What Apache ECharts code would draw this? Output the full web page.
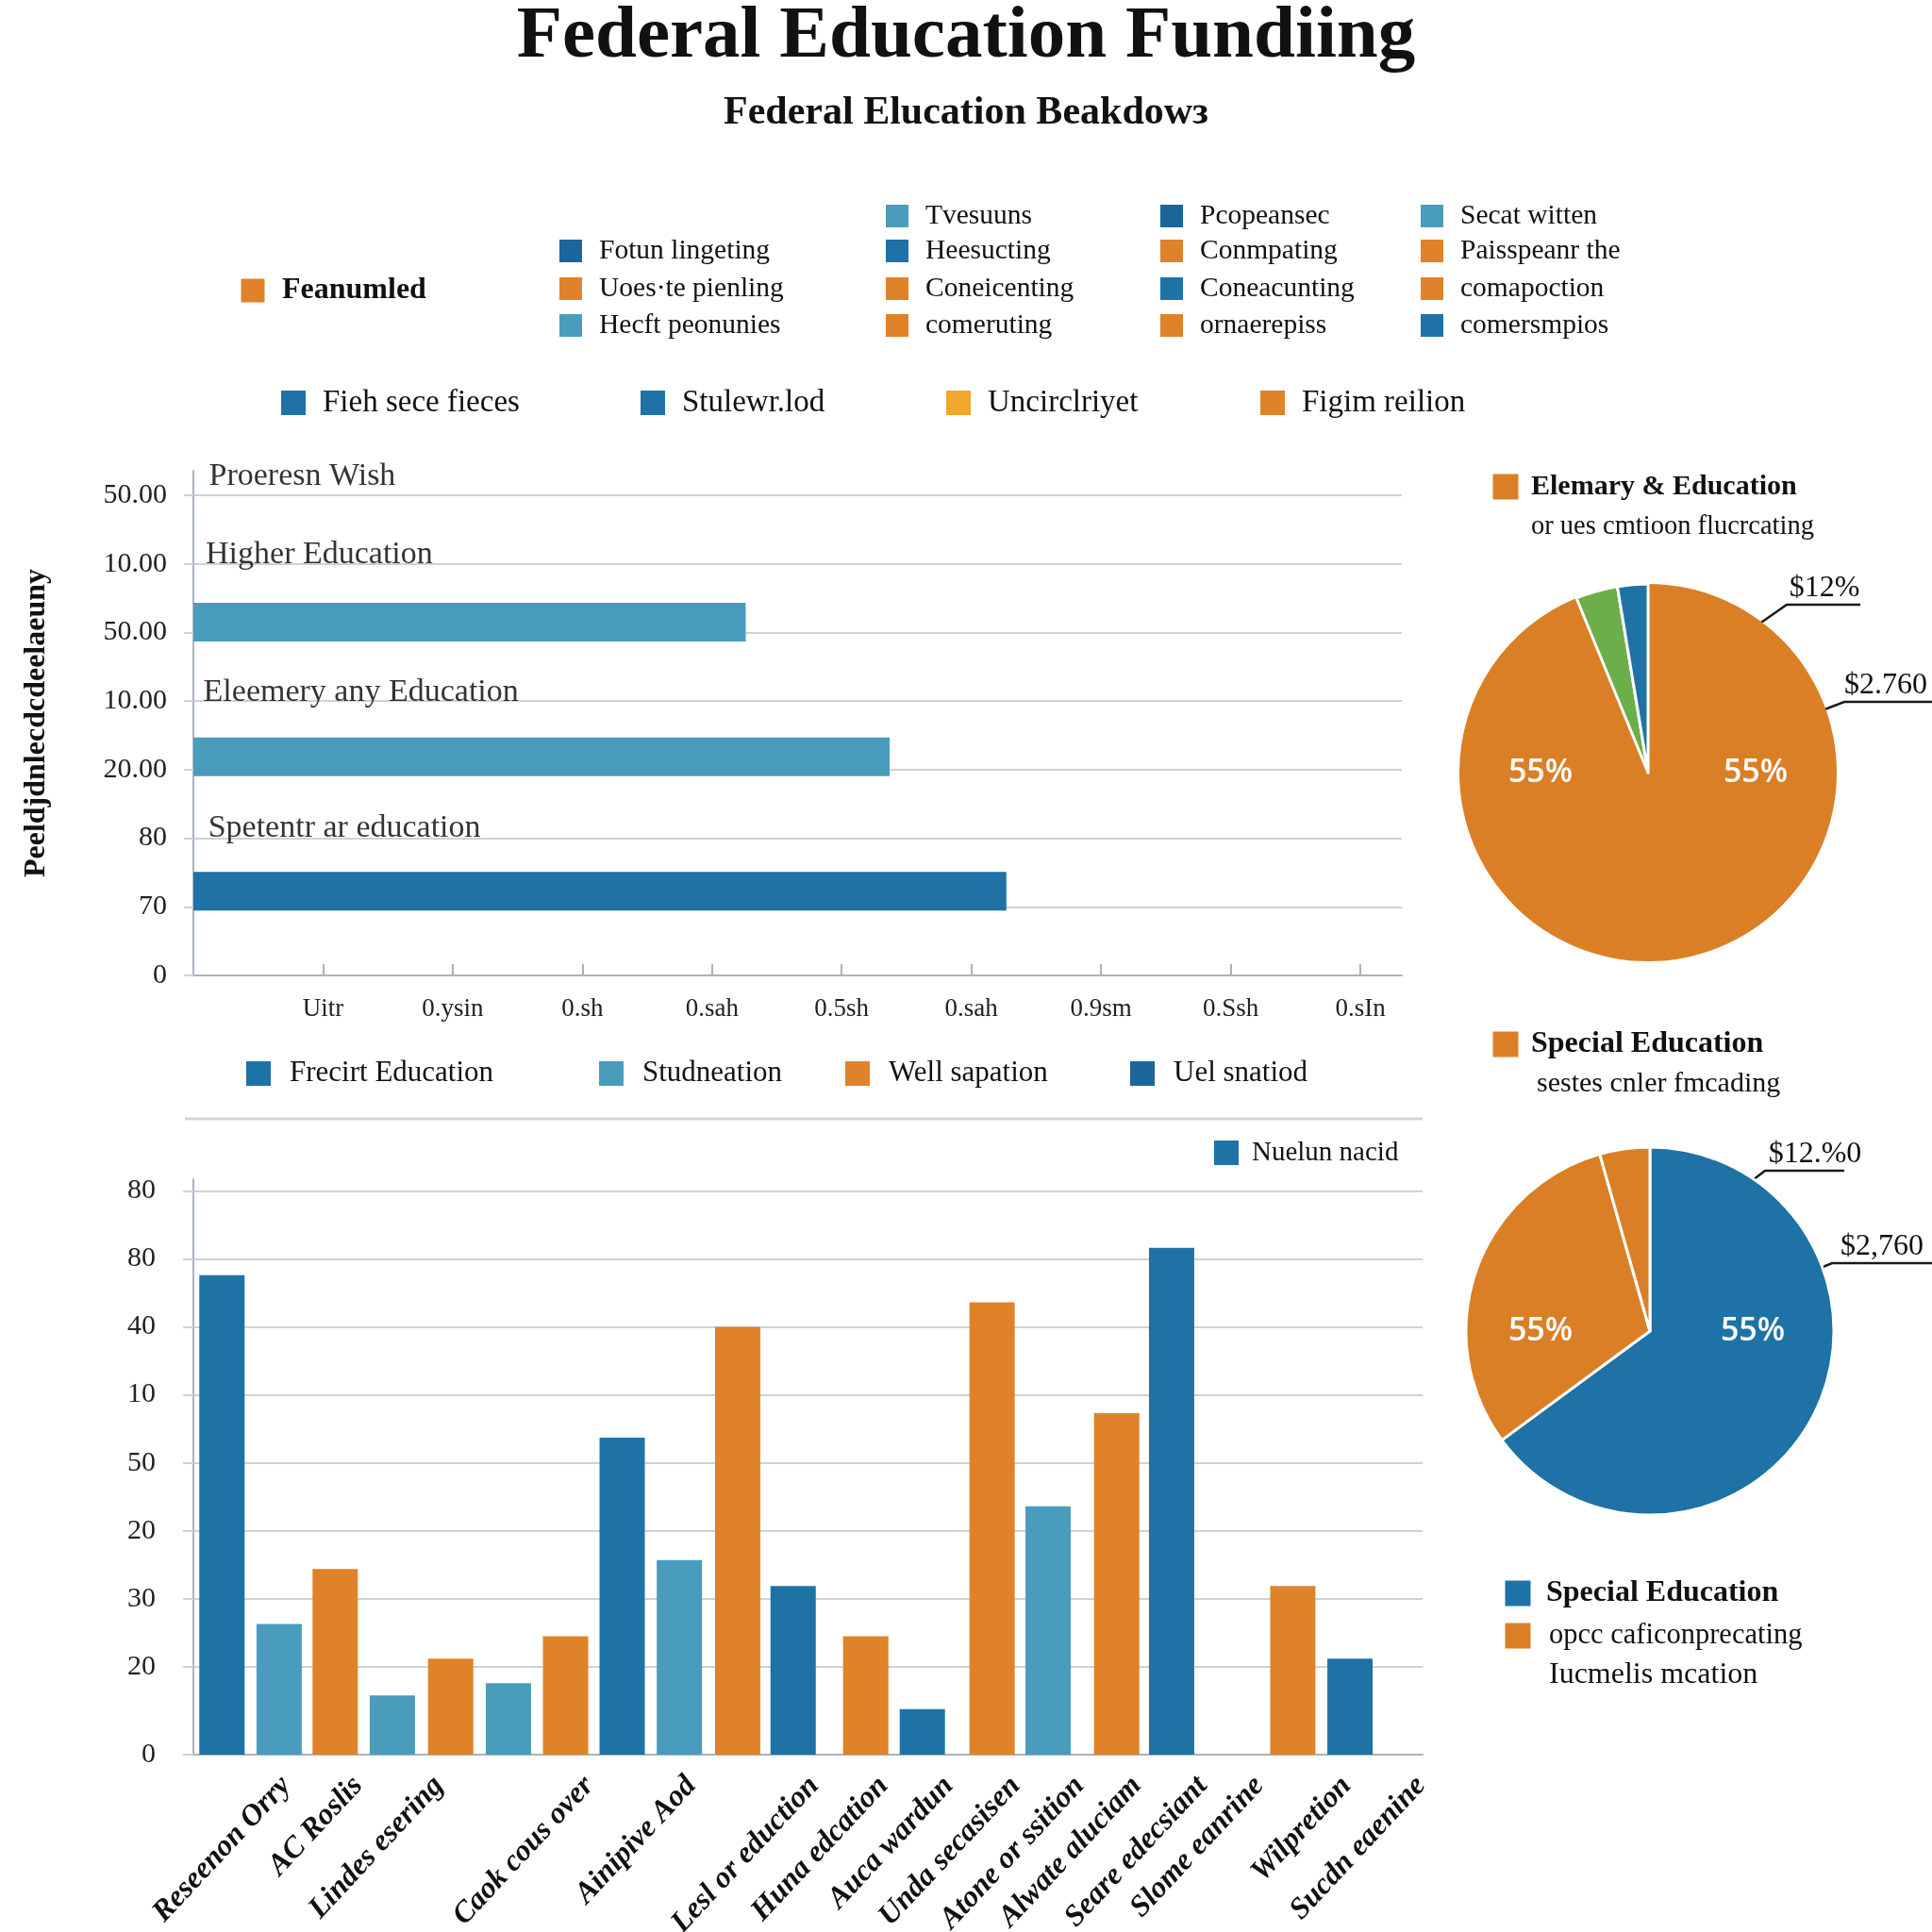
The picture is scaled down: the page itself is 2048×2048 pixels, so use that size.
<!DOCTYPE html>
<html><head><meta charset="utf-8">
<script src="https://cdn.jsdelivr.net/npm/echarts@6/dist/echarts.min.js"></script>
<style>html,body{margin:0;padding:0;background:#fff}#c{width:2048px;height:2048px}</style>
</head><body><div id="c"></div>
<script>
// ================= DATA =================
const titleText = 'Federal Education Fundiing';
const subtitleText = 'Federal Elucation Beakdowз';

// top horizontal bar chart
const topYTickLabels = ['0', '70', '80', '20.00', '10.00', '50.00', '10.00', '50.00']; // bottom -> top
const topXTickLabels = ['Uitr', '0.ysin', '0.sh', '0.sah', '0.5sh', '0.sah', '0.9sm', '0.Ssh', '0.sIn'];
const topYAxisName = 'Peeldjdnlecdcdeelaeuny';
const topCategoryNames = ['Proeresn Wish', 'Higher Education', 'Eleemery any Education', 'Spetentr ar education'];
const topBarValues = [4.26, 5.37, 6.27];
const topBarColors = ['teal', 'teal', 'blue'];

// bottom vertical bar chart
const bottomYTickLabels = ['0', '20', '30', '20', '50', '10', '40', '80', '80']; // bottom -> top
const bottomBarValues = [7.05, 1.92, 2.73, 0.87, 1.41, 1.05, 1.74, 4.66, 2.86, 6.29, 2.48, 1.74, 0.67, 6.65, 3.65, 5.02, 7.45, 2.48, 1.41];
const bottomBarPositions = [0.50, 1.50, 2.48, 3.48, 4.50, 5.51, 6.51, 7.50, 8.50, 9.52, 10.49, 11.76, 12.75, 13.97, 14.95, 16.15, 17.11, 19.23, 20.23];
const bottomBarColors = ['blue', 'teal', 'orange', 'teal', 'orange', 'teal', 'orange', 'blue', 'teal', 'orange', 'blue', 'orange', 'blue', 'orange', 'teal', 'orange', 'blue', 'orange', 'blue'];
const bottomCategoryLabels = ['Reseenon Orry', 'AC Roslis', 'Lindes esering', 'Caok cous over', 'Ainipive Aod', 'Lesl or eduction', 'Huna edcation', 'Auca wardun', 'Unda secasisen', 'Atone or ssition', 'Alwate aluciam', 'Seare edecsiant', 'Slome eanrine', 'Wilpretion', 'Sucdn eaenine'];
const bottomCategoryPositions = [1.62, 2.88, 4.29, 6.92, 8.71, 10.86, 12.07, 13.21, 14.38, 15.5, 16.5, 17.65, 18.64, 20.17, 21.47];

// pie 1 (Elemary & Education)
const pie1Values = [50, 43.8, 3.6, 2.6];
const pie1Colors = ['pieOrange', 'pieOrange', 'green', 'blue'];
const pie1Labels = ['55%', '55%', '', ''];
const pie1Callouts = ['$12%', '$2.760'];

// pie 2 (Special Education)
const pie2Values = [64.9, 30.7, 4.4];
const pie2Colors = ['blue', 'pieOrange', 'pieOrange'];
const pie2Labels = ['55%', '55%', ''];
const pie2Callouts = ['$12.%0', '$2,760'];

// legends
const legendBig = ['Feanumled', 'orange'];
const legendGridCols = [
  [null, ['Fotun lingeting', 'dark'], ['Uoes·te pienling', 'orange'], ['Hecft peonunies', 'teal']],
  [['Tvesuuns', 'teal'], ['Heesucting', 'blue'], ['Coneicenting', 'orange'], ['comeruting', 'orange']],
  [['Pcopeansec', 'dark'], ['Conmpating', 'orange'], ['Coneacunting', 'blue'], ['ornaerepiss', 'orange']],
  [['Secat witten', 'teal'], ['Paisspeanr the', 'orange'], ['comapoction', 'orange'], ['comersmpios', 'blue']]
];
const legendRowB = [['Fieh sece fieces', 'blue'], ['Stulewr.lod', 'blue'], ['Uncirclriyet', 'gold'], ['Figim reilion', 'orange']];
const legendBottom = [['Frecirt Education', 'blue'], ['Studneation', 'teal'], ['Well sapation', 'orange'], ['Uel snatiod', 'dark']];
const legendNuelun = ['Nuelun nacid', 'blue'];
const pie1Title = ['Elemary & Education', 'or ues cmtioon flucrcating'];
const pie2Title = ['Special Education', 'sestes cnler fmcading'];
const pie2Legend = [['Special Education', 'blue'], ['opcc caficonprecating', 'pieOrange'], ['Iucmelis mcation', null]];

// ================= STYLE / LAYOUT =================
const C = {
  blue: '#1F72A6', dark: '#1B679C', teal: '#4A9CBC', orange: '#E0822A',
  gold: '#F2A62E', green: '#6BAE4A', pieOrange: '#DB7F26'
};
const SERIF = '"Liberation Serif", "DejaVu Serif", serif';
const SANS = '"Open Sans", "Noto Sans", sans-serif';
const GRID_C = '#CBD2DA', AXIS_C = '#A9B3BF', TXT = '#111111';

const topYTickValues = topYTickLabels.map((_, i) => i);
const topXTickValues = topXTickLabels.map((_, i) => i + 1);
const topBarSlots = [10, 6, 2];          // slot index on hidden 15-slot category axis
const topLabelAnchors = [[0.12, 7.27], [0.095, 6.13], [0.077, 4.13], [0.114, 2.15]];
const bottomYTickValues = [0, 1.29, 2.29, 3.29, 4.29, 5.29, 6.29, 7.29, 8.29];

const topSlotCats = Array.from({length: 15}, (_, i) => String(i));
const topBarData = topSlotCats.map(() => '-');
topBarSlots.forEach((s, i) => {
  topBarData[s] = {value: topBarValues[i], itemStyle: {color: C[topBarColors[i]]}};
});

function nearestIdx(arr, v) {
  let best = 0, d = Infinity;
  arr.forEach((t, i) => { const dd = Math.abs(t - v); if (dd < d) { d = dd; best = i; } });
  return best;
}

// graphic helpers
function square(cx, cy, size, color) {
  return {type: 'rect', shape: {x: cx - size / 2, y: cy - size / 2, width: size, height: size}, style: {fill: color}, silent: true};
}
function label(x, y, text, size, weight, align, family, fill) {
  return {type: 'text', x: x, y: y, silent: true, style: {
    text: text, fontSize: size, fontWeight: weight || 'normal', fontFamily: family || SERIF,
    fill: fill || TXT, align: align || 'left', verticalAlign: 'middle'}};
}
function legendItem(cx, cy, sq, gap, text, color, size, weight) {
  const out = [];
  if (color) out.push(square(cx, cy, sq, C[color]));
  out.push(label(cx + gap, cy, text, size, weight));
  return out;
}

const graphics = [];
// big left legend item
graphics.push(...legendItem(268, 308, 25, 31, legendBig[0], legendBig[1], 32, 600));
// legend grid (4 columns x 4 rows)
const colSquareX = [605, 951, 1242, 1518];
const rowY = [229, 266, 306, 345];
legendGridCols.forEach((col, ci) => {
  col.forEach((item, ri) => {
    if (item) graphics.push(...legendItem(colSquareX[ci], rowY[ri], 24, 30, item[0], item[1], 29.5, 'normal'));
  });
});
// second legend row
const rowBX = [311, 692, 1016, 1349];
legendRowB.forEach((it, i) => graphics.push(...legendItem(rowBX[i], 427, 26, 31, it[0], it[1], 33, 'normal')));
// bottom chart legend row
const rowBotX = [274, 648, 909, 1211];
legendBottom.forEach((it, i) => graphics.push(...legendItem(rowBotX[i], 1138, 26, 33, it[0], it[1], 31, 'normal')));
// separator line
graphics.push({type: 'line', silent: true, shape: {x1: 196, y1: 1186, x2: 1508, y2: 1186}, style: {stroke: '#CDD3DA', lineWidth: 3}});
// Nuelun nacid
graphics.push(...legendItem(1300, 1222, 26, 27, legendNuelun[0], legendNuelun[1], 29, 'normal'));
// pie titles
graphics.push(...legendItem(1596, 516, 27, 27, pie1Title[0], 'pieOrange', 30, 600));
graphics.push(label(1623, 559, pie1Title[1], 28.5, 'normal'));
graphics.push(...legendItem(1596, 1107, 27, 27, pie2Title[0], 'pieOrange', 32, 600));
graphics.push(label(1629, 1149, pie2Title[1], 30, 'normal'));
// pie2 legend below
graphics.push(...legendItem(1609, 1689, 27, 30, pie2Legend[0][0], pie2Legend[0][1], 32, 600));
graphics.push(...legendItem(1609, 1734, 27, 33, pie2Legend[1][0], pie2Legend[1][1], 30.5, 'normal'));
graphics.push(label(1642, 1776, pie2Legend[2][0], 32, 'normal'));
// pie callouts
function callout(points, text, tx, ty, align) {
  graphics.push({type: 'polyline', silent: true, shape: {points: points}, style: {stroke: '#1a1a1a', lineWidth: 2.5, fill: null}});
  graphics.push({type: 'text', x: tx, y: ty, silent: true, style: {text: text, fontSize: 32, fontFamily: SERIF, fill: TXT, align: align, verticalAlign: 'bottom'}});
}
callout([[1848, 673], [1894, 641], [1972, 641]], pie1Callouts[0], 1934, 640, 'center');
callout([[1903, 764], [1955, 744], [2048, 744]], pie1Callouts[1], 1955, 743, 'left');
callout([[1841, 1264], [1871, 1241], [1955, 1241]], pie2Callouts[0], 1924, 1240, 'center');
callout([[1896, 1358], [1942, 1339], [2048, 1339]], pie2Callouts[1], 1951, 1338, 'left');

const PIE1 = {cx: 1747, cy: 819, r: 200, dx: [114, -114, 0, 0]};
const PIE2 = {cx: 1749, cy: 1411, r: 195, dx: [109, -116, 0]};

function pieSeries(P, values, colors, labels, borderOn) {
  return {
    type: 'pie', center: [P.cx, P.cy], radius: [0, P.r], startAngle: 90, clockwise: true,
    silent: true, animation: false,
    data: values.map((v, i) => ({
      value: v,
      itemStyle: {color: C[colors[i]], borderColor: '#fff', borderWidth: borderOn[i] ? 3 : 0}
    })),
    label: {show: true, position: 'inside', formatter: p => labels[p.dataIndex],
      color: '#fff', fontFamily: SANS, fontWeight: 600, fontSize: 34},
    labelLine: {show: false},
    labelLayout: p => (labels[p.dataIndex] ? {x: P.cx + P.dx[p.dataIndex], y: P.cy} : {})
  };
}

const option = {
  backgroundColor: '#ffffff',
  animation: false,
  title: [
    {text: titleText, left: 'center', top: 0, padding: 0,
      textStyle: {fontFamily: SERIF, fontSize: 79, fontWeight: 'bold', color: '#111'}},
    {text: subtitleText, left: 'center', top: 99, padding: 0,
      textStyle: {fontFamily: SERIF, fontSize: 42, fontWeight: 'bold', color: '#111'}}
  ],
  grid: [
    {left: 205, top: 499, width: 1281, height: 535, containLabel: false, outerBoundsMode: 'none'},
    {left: 205, top: 1250, width: 1303, height: 610, containLabel: false, outerBoundsMode: 'none'}
  ],
  xAxis: [
    {gridIndex: 0, type: 'value', min: 0, max: 9.32,
      axisLine: {show: true, lineStyle: {color: AXIS_C, width: 2}},
      axisTick: {show: true, inside: true, length: 12, customValues: topXTickValues, lineStyle: {color: AXIS_C, width: 2}},
      splitLine: {show: false},
      axisLabel: {customValues: topXTickValues, margin: 22, fontFamily: SERIF, fontSize: 27, color: '#222',
        formatter: v => topXTickLabels[nearestIdx(topXTickValues, v)]}},
    {gridIndex: 1, type: 'value', min: 0, max: 21.5,
      axisLine: {show: true, lineStyle: {color: AXIS_C, width: 2}},
      axisTick: {show: false},
      splitLine: {show: false},
      axisLabel: {customValues: bottomCategoryPositions, rotate: 47, margin: 28, interval: 0,
        fontFamily: SERIF, fontSize: 32, fontStyle: 'italic', fontWeight: 'bold', color: '#111',
        formatter: v => bottomCategoryLabels[nearestIdx(bottomCategoryPositions, v)]}}
  ],
  yAxis: [
    {gridIndex: 0, type: 'value', min: 0, max: 7.36,
      name: topYAxisName, nameLocation: 'middle', nameRotate: 90, nameGap: 150,
      nameTextStyle: {fontFamily: SERIF, fontSize: 32, fontWeight: 'bold', color: '#111'},
      axisLine: {show: true, lineStyle: {color: AXIS_C, width: 2}},
      axisTick: {show: true, length: 10, customValues: topYTickValues, lineStyle: {color: GRID_C, width: 2}},
      splitLine: {show: true, lineStyle: {color: GRID_C, width: 2}},
      axisLabel: {customValues: topYTickValues, margin: 28, fontFamily: SERIF, fontSize: 30, color: '#222',
        formatter: v => topYTickLabels[nearestIdx(topYTickValues, v)]}},
    {gridIndex: 0, type: 'category', data: topSlotCats, show: false, boundaryGap: true},
    {gridIndex: 1, type: 'value', min: 0, max: 8.46,
      axisLine: {show: true, lineStyle: {color: AXIS_C, width: 2}},
      axisTick: {show: true, length: 11, customValues: bottomYTickValues, lineStyle: {color: GRID_C, width: 2}},
      splitLine: {show: true, lineStyle: {color: GRID_C, width: 2}},
      axisLabel: {customValues: bottomYTickValues, margin: 40, fontFamily: SERIF, fontSize: 30, color: '#222',
        formatter: v => bottomYTickLabels[nearestIdx(bottomYTickValues, v)]}}
  ],
  series: [
    {type: 'bar', xAxisIndex: 0, yAxisIndex: 1, barWidth: 41, data: topBarData, silent: true},
    {type: 'scatter', xAxisIndex: 0, yAxisIndex: 0, symbolSize: 0, silent: true,
      data: topLabelAnchors,
      label: {show: true, position: 'right', distance: 0, fontFamily: SERIF, fontSize: 34, color: '#000',
        formatter: p => topCategoryNames[p.dataIndex]}},
    {type: 'bar', xAxisIndex: 1, yAxisIndex: 2, barWidth: 48, silent: true,
      data: bottomBarValues.map((v, i) => ({value: [bottomBarPositions[i], v], itemStyle: {color: C[bottomBarColors[i]]}}))},
    pieSeries(PIE1, pie1Values, pie1Colors, pie1Labels, [false, false, true, true]),
    pieSeries(PIE2, pie2Values, pie2Colors, pie2Labels, [true, true, true])
  ],
  graphic: graphics
};

const chart = echarts.init(document.getElementById('c'), null, {renderer: 'canvas'});
chart.setOption(option);
</script>
</body></html>
